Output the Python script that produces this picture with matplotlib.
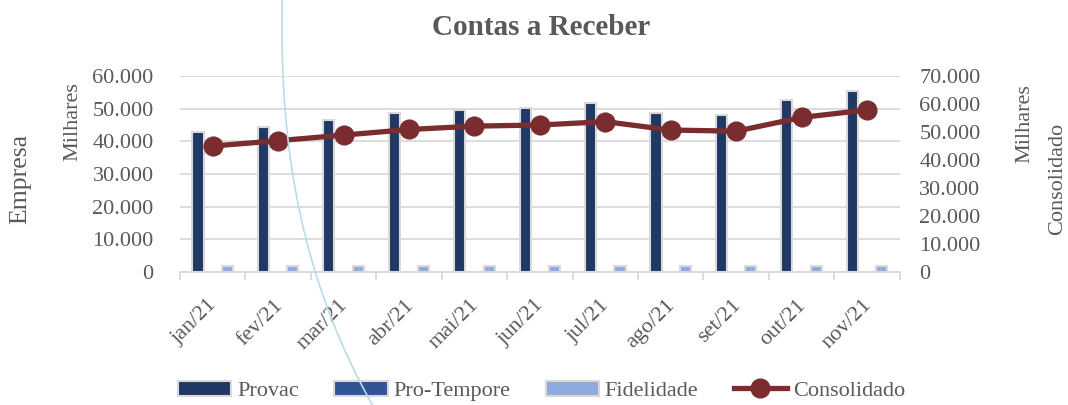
import matplotlib.pyplot as plt
import matplotlib.transforms as mtrans
import numpy as np
from matplotlib.lines import Line2D

# Data
meses = ['jan/21', 'fev/21', 'mar/21', 'abr/21', 'mai/21', 'jun/21',
         'jul/21', 'ago/21', 'set/21', 'out/21', 'nov/21']
provac = [42800, 44500, 46500, 48600, 49600, 50300, 51600, 48600, 48100, 52700, 55500]
pro_tempore = [0, 0, 0, 0, 0, 0, 0, 0, 0, 0, 150]
fidelidade = [1700, 1700, 1700, 1700, 1700, 1700, 1700, 1700, 1700, 1700, 1700]
consolidado = [45000, 46900, 48900, 50900, 52100, 52500, 53700, 50700, 50300, 55200, 57900]

cinza = '#595959'
grade = '#d9d9d9'
fs = 16
plt.rcParams['font.family'] = ['Liberation Serif', 'DejaVu Serif']

fig = plt.figure(figsize=(10.68, 4.05), dpi=100)
ax = fig.add_axes([0.1685, 0.3284, 0.674, 0.4839])
ax2 = ax.twinx()

x = np.arange(len(meses))
w = 0.17
ax.bar(x - 0.225, provac, w, color='#1f3864', edgecolor=grade, linewidth=1.5, label='Provac', zorder=3)
ax.bar(x, pro_tempore, w, color='#2f5597', edgecolor=grade, linewidth=1.5, label='Pro-Tempore', zorder=3)
ax.bar(x + 0.225, fidelidade, w, color='#8faadc', edgecolor=grade, linewidth=1.5, label='Fidelidade', zorder=3)
ax2.plot(x, consolidado, color='#7b2c2f', lw=3.8, marker='o', ms=13.5, label='Consolidado', zorder=4)

ax.set_xlim(-0.5, len(meses) - 0.5)
ax.set_ylim(0, 60000)
ax2.set_ylim(0, 70000)
ax.set_yticks(np.arange(0, 60001, 10000))
ax2.set_yticks(np.arange(0, 70001, 10000))
fmt = lambda v: '0' if v == 0 else f'{int(v):,}'.replace(',', '.')
ax.set_yticklabels([fmt(v) for v in ax.get_yticks()])
ax2.set_yticklabels([fmt(v) for v in ax2.get_yticks()])

ax.yaxis.grid(True, color=grade, lw=1.3, zorder=0)
ax.set_axisbelow(True)
for a in (ax, ax2):
    for s in ['top', 'left', 'right']:
        a.spines[s].set_visible(False)
    a.spines['bottom'].set_color(grade)
    a.spines['bottom'].set_linewidth(1.3)
    a.tick_params(axis='y', length=0, labelsize=fs, labelcolor=cinza)
ax.tick_params(axis='y', pad=19)
ax2.tick_params(axis='y', pad=14)

ax.set_xticks(x)
ax.set_xticklabels(meses, rotation=45, ha='right', va='top', rotation_mode='anchor',
                   fontsize=fs, color=cinza)
ax.tick_params(axis='x', which='major', length=0, pad=17)
shift = mtrans.ScaledTranslation(-5 / 100, 0, fig.dpi_scale_trans)
for lbl in ax.get_xticklabels():
    lbl.set_transform(lbl.get_transform() + shift)
ax.set_xticks(np.arange(-0.5, len(meses), 1), minor=True)
ax.tick_params(axis='x', which='minor', length=6, color=grade, width=1.3)

fig.text(0.5066, 0.931, 'Contas a Receber', ha='center', va='center',
         fontsize=21, fontweight='bold', color=cinza)
fig.text(0.019, 0.558, 'Empresa', rotation=90, ha='center', va='center', fontsize=18.5, color=cinza)
fig.text(0.068, 0.70, 'Milhares', rotation=90, ha='center', va='center', fontsize=fs, color=cinza)
fig.text(0.9595, 0.696, 'Milhares', rotation=90, ha='center', va='center', fontsize=fs, color=cinza)
fig.text(0.9905, 0.558, 'Consolidado', rotation=90, ha='center', va='center', fontsize=fs, color=cinza)

h1, l1 = ax.get_legend_handles_labels()
h2, l2 = ax2.get_legend_handles_labels()
fig.legend(h1 + h2, l1 + l2, loc='center', bbox_to_anchor=(0.507, 0.035), ncol=4,
           frameon=False, fontsize=fs, labelcolor=cinza, handlelength=2.4,
           handletextpad=0.25, columnspacing=1.6)

# stray light-blue curve present in the original picture
py = np.array([0, 60, 110, 200, 275, 360, 405])
px = np.array([282, 283, 285, 297, 316, 350, 372])
yy = np.linspace(0, 405, 60)
xx = np.polyval(np.polyfit(py, px, 3), yy)
fig.add_artist(Line2D(xx / 1068, 1 - yy / 405, color='#b7dde8', lw=1.2,
                      transform=fig.transFigure, zorder=10))

fig.savefig('out.png', dpi=100)
